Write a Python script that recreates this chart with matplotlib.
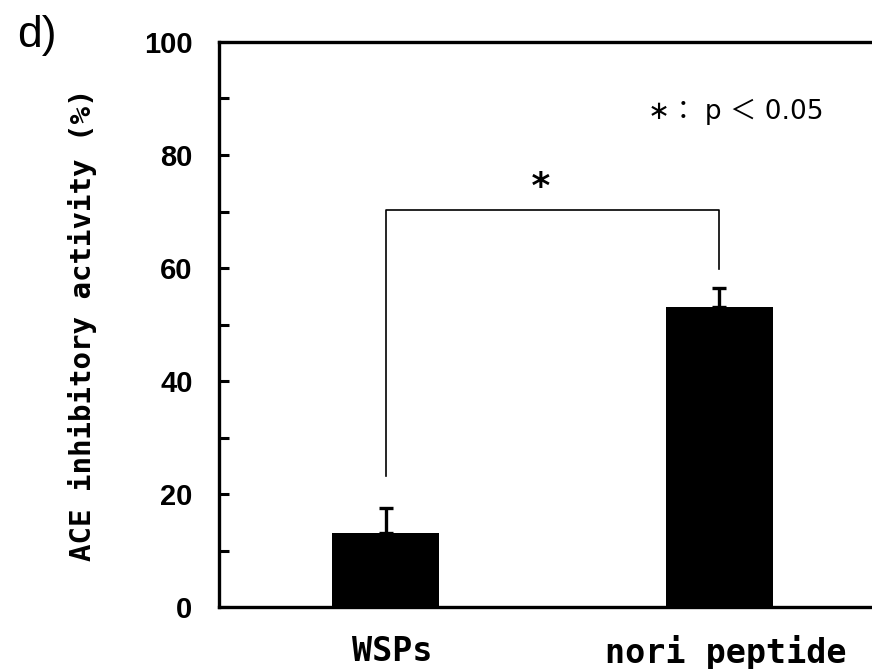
import matplotlib
matplotlib.use('Agg')
import matplotlib.pyplot as plt

# data
groups = ['WSPs', 'nori peptide']
values = [13.1, 53.1]
errors = [4.4, 3.4]
bracket_y = 70.3
bracket_left_bottom = 23.2
bracket_right_bottom = 59.8
yticks = [0, 20, 40, 60, 80, 100]

MONO = ['DejaVu Sans Mono']
SANS = ['Liberation Sans', 'DejaVu Sans']

fig = plt.figure(figsize=(8.72, 6.69), dpi=100)
ax = fig.add_axes([219 / 872, 1 - 607 / 669, (886 - 219) / 872, (607 - 42) / 669])

x = list(range(len(groups)))
ax.bar(x, values, width=0.32, color='black', zorder=2)
ax.errorbar(x, values, yerr=[[0] * len(errors), errors], fmt='none',
            ecolor='black', elinewidth=2.4, capsize=5, capthick=2.4, zorder=3)

# significance bracket
ax.plot([x[0], x[0], x[1], x[1]],
        [bracket_left_bottom, bracket_y, bracket_y, bracket_right_bottom],
        color='black', lw=1.2, clip_on=False)
ax.text(0.465, bracket_y + 1.0, '*', ha='center', va='bottom', fontsize=26,
        fontweight='bold', family=MONO)

ax.text(0.787, 87.6, '∗： p ＜ 0.05', ha='left', va='center', fontsize=19,
        family=['DejaVu Sans', 'Noto Sans CJK JP'])

ax.set_xlim(-0.5, 1.5)
ax.set_ylim(0, 100)
ax.set_yticks(yticks)
ax.set_yticks(range(10, 100, 20), minor=True)
ax.set_yticklabels([str(t) for t in yticks], fontsize=21, fontweight='bold',
                   family=SANS)
ax.tick_params(axis='y', which='both', direction='in', length=7, width=2.2, pad=19)
ax.set_xticks([])

for s in ['left', 'bottom', 'top']:
    ax.spines[s].set_linewidth(2.4)
ax.spines['right'].set_visible(False)

# category labels
for xi, g in zip(x, groups):
    ax.text(xi + 0.02, -5.0, g, ha='center', va='top',
            fontsize=24, fontweight='bold', family=MONO)

ax.set_ylabel('ACE inhibitory activity (%)', fontsize=21, fontweight='bold',
              family=MONO, labelpad=34)

fig.text(17 / 872, 1 - 35 / 669, 'd)', fontsize=32, va='center', ha='left',
         family=SANS)

fig.savefig('out.png', dpi=100)
